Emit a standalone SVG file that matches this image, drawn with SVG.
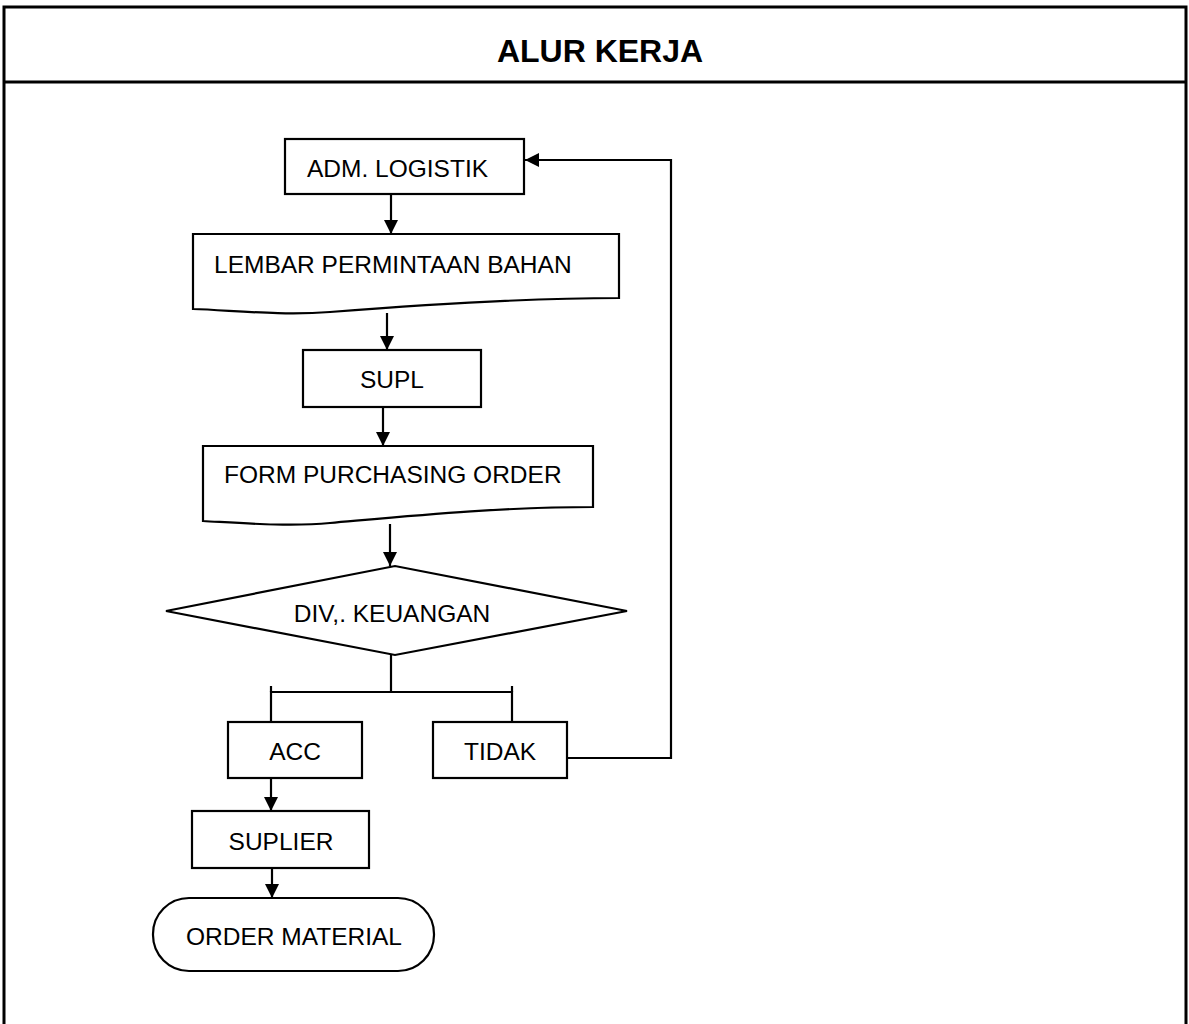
<svg xmlns="http://www.w3.org/2000/svg" width="1189" height="1024" viewBox="0 0 1189 1024">
<style>
.frame{fill:none;stroke:#000;stroke-width:3}
.shape{fill:#fff;stroke:#000;stroke-width:2.2}
.line{fill:none;stroke:#000;stroke-width:2.2}
.lbl{font-family:"Liberation Sans",Arial,sans-serif;font-size:24.5px;fill:#000}
.title{font-family:"Liberation Sans",Arial,sans-serif;font-size:32px;font-weight:bold;fill:#000}
</style>
<defs>
<marker id="arr" markerWidth="14" markerHeight="14" refX="14" refY="7" orient="auto" markerUnits="userSpaceOnUse">
<path d="M0,0 L14,7 L0,14 Z" fill="#000"/>
</marker>
</defs>
<rect width="1189" height="1024" fill="#fff"/>
<g id="frame">
<path class="frame" d="M4,1030 V7 H1186 V1030"/>
<line class="frame" x1="4" y1="82" x2="1186" y2="82"/>
<text class="title" x="600" y="62" text-anchor="middle">ALUR KERJA</text>
</g>
<g id="connectors">
<line class="line" x1="391" y1="195" x2="391" y2="234" marker-end="url(#arr)"/>
<line class="line" x1="387" y1="313" x2="387" y2="350" marker-end="url(#arr)"/>
<line class="line" x1="383" y1="407" x2="383" y2="446" marker-end="url(#arr)"/>
<line class="line" x1="390" y1="524" x2="390" y2="566" marker-end="url(#arr)"/>
<polyline class="line" points="391,655 391,692"/>
<polyline class="line" points="271,722 271,692 512,692 512,722"/>
<line class="line" x1="271" y1="686" x2="271" y2="692"/>
<line class="line" x1="512" y1="686" x2="512" y2="692"/>
<polyline class="line" points="567,758 671,758 671,160 525,160" marker-end="url(#arr)"/>
<line class="line" x1="271" y1="778" x2="271" y2="811" marker-end="url(#arr)"/>
<line class="line" x1="272" y1="868" x2="272" y2="898" marker-end="url(#arr)"/>
</g>
<g id="adm">
<rect class="shape" x="285" y="139" width="239" height="55"/>
<text class="lbl" x="307" y="177">ADM. LOGISTIK</text>
</g>
<g id="lembar">
<path class="shape" d="M193,234 H619 V298 C520,298 420,305 330,312 C280,316 230,310 193,309 Z"/>
<text class="lbl" x="214" y="273">LEMBAR PERMINTAAN BAHAN</text>
</g>
<g id="supl">
<rect class="shape" x="303" y="350" width="178" height="57"/>
<text class="lbl" x="392" y="388" text-anchor="middle">SUPL</text>
</g>
<g id="form">
<path class="shape" d="M203,446 H593 V507 C500,507 410,516 330,523 C290,527 240,523 203,521 Z"/>
<text class="lbl" x="224" y="483">FORM PURCHASING ORDER</text>
</g>
<g id="div">
<polygon class="shape" points="166,611 395,566 627,611 395,655"/>
<text class="lbl" x="392" y="622" text-anchor="middle">DIV,. KEUANGAN</text>
</g>
<g id="acc">
<rect class="shape" x="228" y="722" width="134" height="56"/>
<text class="lbl" x="295" y="760" text-anchor="middle">ACC</text>
</g>
<g id="tidak">
<rect class="shape" x="433" y="722" width="134" height="56"/>
<text class="lbl" x="500" y="760" text-anchor="middle">TIDAK</text>
</g>
<g id="suplier">
<rect class="shape" x="192" y="811" width="177" height="57"/>
<text class="lbl" x="281" y="850" text-anchor="middle">SUPLIER</text>
</g>
<g id="order">
<rect class="shape" x="153" y="898" width="281" height="73" rx="36" ry="36"/>
<text class="lbl" x="294" y="945" text-anchor="middle">ORDER MATERIAL</text>
</g>
</svg>
